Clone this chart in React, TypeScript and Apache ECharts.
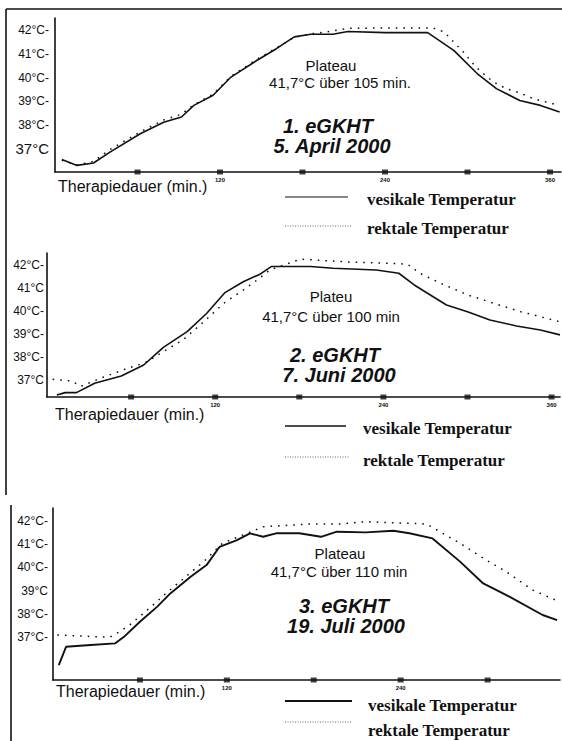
import React, { useEffect, useRef } from "react";
import * as echarts from "echarts";

// ---------- data (minutes, °C) ----------
const xTickLabels = [120, 240, 360];
const squareTicks1 = [60, 120, 180, 240, 300, 360];
const squareTicks2 = [60, 120, 180, 240, 300, 360];
const squareTicks3 = [60, 120, 180, 240, 300];
const yTickValues = [37, 38, 39, 40, 41, 42];
const yLabels1 = ["37°C", "38°C-", "39°C-", "40°C-", "41°C-", "42°C-"];
const yLabels2 = ["37°C", "38°C-", "39°C-", "40°C-", "41°C", "42°C-"];
const yLabels3 = ["37°C-", "38°C-", "39°C", "40°C-", "41°C-", "42°C-"];

const vesikal1 = [
  [5, 36.53], [16, 36.28], [28, 36.38], [40, 36.84], [62, 37.62], [79, 38.11], [92, 38.33],
  [101, 38.82], [115, 39.25], [128, 40.02], [147, 40.73], [161, 41.22], [174, 41.72],
  [186, 41.83], [202, 41.83], [213, 41.95], [240, 41.9], [271, 41.9], [290, 41.15],
  [307, 40.17], [321, 39.53], [338, 39.03], [353, 38.82], [367, 38.54],
];
const rektal1 = [
  [5, 36.5], [16, 36.3], [28, 36.45], [40, 36.95], [62, 37.7], [79, 38.2], [92, 38.45],
  [101, 38.85], [115, 39.3], [128, 40.05], [147, 40.78], [161, 41.25], [174, 41.7],
  [186, 41.85], [200, 41.95], [213, 42.08], [240, 42.1], [275, 42.1], [283, 41.93],
  [290, 41.5], [297, 41.08], [304, 40.59], [310, 40.23], [319, 39.81], [328, 39.53],
  [338, 39.35], [348, 39.1], [367, 38.82],
];
const plateauMarks1 = [103, 223];

const vesikal2 = [
  [7, 36.35], [13, 36.45], [21, 36.45], [34, 36.86], [53, 37.17], [69, 37.65], [83, 38.42],
  [100, 39.1], [114, 39.9], [127, 40.8], [140, 41.27], [152, 41.6], [160, 41.93],
  [188, 41.93], [204, 41.86], [235, 41.78], [251, 41.64], [262, 41.13], [285, 40.26],
  [300, 39.97], [316, 39.61], [335, 39.35], [352, 39.17], [366, 38.96],
];
const rektal2 = [
  [4, 37.03], [18, 36.95], [24, 36.72], [38, 37.07], [57, 37.5], [70, 37.75], [83, 38.23],
  [97, 38.74], [112, 39.54], [126, 40.33], [140, 40.91], [150, 41.35], [159, 41.78],
  [169, 42.0], [181, 42.25], [212, 42.14], [257, 42.04], [266, 41.64], [281, 41.2],
  [300, 40.7], [319, 40.33], [338, 39.97], [352, 39.75], [366, 39.53],
];

const vesikal3 = [
  [4, 35.79], [9, 36.58], [26, 36.66], [43, 36.73], [49, 37.01], [60, 37.66], [72, 38.31],
  [81, 38.88], [95, 39.6], [106, 40.1], [115, 40.89], [127, 41.18], [136, 41.47],
  [145, 41.32], [154, 41.47], [170, 41.47], [185, 41.32], [196, 41.54], [216, 41.51],
  [235, 41.58], [246, 41.47], [262, 41.25], [281, 40.25], [297, 39.31], [313, 38.81],
  [338, 37.95], [348, 37.73],
];
const rektal3 = [
  [3, 37.09], [39, 36.99], [44, 37.16], [53, 37.52], [65, 38.16], [78, 38.88], [104, 40.25],
  [117, 41.04], [134, 41.47], [145, 41.75], [177, 41.87], [198, 41.87], [216, 41.97],
  [258, 41.87], [269, 41.47], [281, 41.04], [299, 40.32], [313, 39.81], [331, 39.03],
  [347, 38.59],
];

// ---------- panel layout ----------
const panels = [
  { left: 55, top: 18, width: 506, height: 154, xMax: 368, yMin: 36, yMax: 42.52, labelMargin: 6,
    yLabels: yLabels1, ves: vesikal1, rek: rektal1, squares: squareTicks1 },
  { left: 47, top: 253, width: 513, height: 144, xMax: 366, yMin: 36.26, yMax: 42.52, labelMargin: 3,
    yLabels: yLabels2, ves: vesikal2, rek: rektal2, squares: squareTicks2 },
  { left: 53, top: 508, width: 507, height: 172, xMax: 350, yMin: 35.15, yMax: 42.56, labelMargin: 5,
    yLabels: yLabels3, ves: vesikal3, rek: rektal3, squares: squareTicks3 },
];

const SANS = "'Liberation Sans', Arial, sans-serif";
const NARROW = "'Liberation Sans Narrow', 'Liberation Sans', Arial, sans-serif";
const SERIF = "'Liberation Serif', 'DejaVu Serif', serif";

function txt(x: number, y: number, text: string, font: any, align = "center") {
  return {
    type: "text",
    x,
    y,
    style: {
      text,
      fill: "#111",
      textAlign: align,
      textVerticalAlign: "middle",
      ...font,
    },
  };
}
function ln(x1: number, y1: number, x2: number, y2: number, w = 1.3, dash: any = null, color = "#111") {
  return {
    type: "line",
    shape: { x1, y1, x2, y2 },
    style: { stroke: color, lineWidth: w, lineDash: dash },
  };
}

export default function App() {
  const ref = useRef<HTMLDivElement>(null);
  useEffect(() => {
    if (!ref.current) return;
    const chart = echarts.init(ref.current, undefined, { renderer: "svg" });

    const grid = panels.map((p) => ({ left: p.left, top: p.top, width: p.width, height: p.height }));
    const xAxis = panels.map((p, i) => ({
      type: "value",
      gridIndex: i,
      min: 0,
      max: p.xMax,
      axisLine: { show: true, lineStyle: { color: "#111", width: 1.6 } },
      axisTick: { show: false },
      splitLine: { show: false },
      axisLabel: {
        customValues: xTickLabels.filter((v) => v <= p.xMax),
        fontSize: 6,
        fontWeight: "bold",
        fontFamily: SANS,
        color: "#111",
        margin: 5,
      },
    }));
    const yAxis = panels.map((p, i) => ({
      type: "value",
      gridIndex: i,
      min: p.yMin,
      max: p.yMax,
      axisLine: { show: true, lineStyle: { color: "#111", width: 1.6 } },
      axisTick: { show: false },
      splitLine: { show: false },
      axisLabel: {
        customValues: yTickValues,
        margin: p.labelMargin,
        fontSize: 12,
        fontFamily: NARROW,
        color: "#111",
        formatter: (v: number) => {
          const s = p.yLabels[yTickValues.indexOf(Math.round(v))] || "";
          return i === 0 && Math.round(v) === 37 ? "{big|" + s + "}" : s;
        },
        rich: { big: { fontSize: 15, fontFamily: SANS, color: "#111" } },
      },
    }));

    const series: any[] = [];
    panels.forEach((p, i) => {
      series.push({
        type: "line",
        name: "vesikale Temperatur",
        xAxisIndex: i,
        yAxisIndex: i,
        data: p.ves,
        showSymbol: false,
        clip: false,
        lineStyle: { color: "#111", width: i === 2 ? 1.9 : 1.6 },
        markLine:
          i === 0
            ? {
                silent: true,
                symbol: "none",
                label: { show: false },
                lineStyle: { color: "#111", width: 1, type: "solid" },
                data: [
                  [{ coord: [plateauMarks1[0], 35.87] }, { coord: [plateauMarks1[0], 37.2] }],
                  [{ coord: [plateauMarks1[1], 35.65] }, { coord: [plateauMarks1[1], 37.1] }],
                ],
              }
            : undefined,
      });
      series.push({
        type: "line",
        name: "rektale Temperatur",
        xAxisIndex: i,
        yAxisIndex: i,
        data: p.rek,
        showSymbol: false,
        clip: false,
        lineStyle: { color: "#111", width: 1.5, type: [1.6, 6] },
      });
      series.push({
        type: "scatter",
        xAxisIndex: i,
        yAxisIndex: i,
        data: p.squares.map((t) => [t, p.yMin]),
        symbol: "rect",
        symbolSize: [6, 5],
        itemStyle: { color: "#111" },
        clip: false,
      });
    });

    const f13 = { fontSize: 15, fontFamily: SANS };
    const f14 = { fontSize: 15, fontFamily: SANS };
    const fAxis = { fontSize: 16, fontFamily: SANS };
    const fTitle = { fontSize: 20, fontFamily: SANS, fontWeight: "bold", fontStyle: "italic" };
    const fLeg = { fontSize: 17, fontFamily: SERIF, fontWeight: "bold" };

    const graphic: any[] = [
      // frame
      ln(6, 9, 562, 9, 1.6),
      ln(6, 9, 6, 495, 1.6),
      ln(11, 505, 11, 741, 1.6),
      // panel 1
      txt(58, 186, "Therapiedauer (min.)", fAxis, "left"),
      txt(331, 65, "Plateau", f14),
      txt(340, 82, "41,7°C über 105 min.", f13),
      txt(328, 126, "1. eGKHT", fTitle),
      txt(332, 146, "5. April 2000", fTitle),
      ln(285, 197, 348, 197, 1.2),
      txt(367, 199, "vesikale Temperatur", fLeg, "left"),
      ln(285, 226, 352, 226, 1, [1, 1.5], "#666"),
      txt(367, 228, "rektale Temperatur", fLeg, "left"),
      // panel 2
      txt(55, 414, "Therapiedauer (min.)", fAxis, "left"),
      txt(331, 296, "Plateu", f14),
      txt(331, 316, "41,7°C über 100 min", f13),
      txt(335, 355, "2. eGKHT", fTitle),
      txt(339, 375, "7. Juni 2000", fTitle),
      ln(285, 426, 346, 426, 1.4),
      txt(363, 428, "vesikale Temperatur", fLeg, "left"),
      ln(285, 457, 350, 457, 1, [1, 1.5], "#666"),
      txt(363, 460, "rektale Temperatur", fLeg, "left"),
      // panel 3
      txt(56, 691, "Therapiedauer (min.)", fAxis, "left"),
      txt(340, 553, "Plateau", f14),
      txt(339, 571, "41,7°C über 110 min", f13),
      txt(344, 606, "3. eGKHT", fTitle),
      txt(346, 626, "19. Juli 2000", fTitle),
      ln(285, 701, 352, 701, 2),
      txt(368, 705, "vesikale Temperatur", fLeg, "left"),
      ln(285, 722, 352, 722, 1, [1, 1.5], "#666"),
      txt(368, 730, "rektale Temperatur", fLeg, "left"),
    ];

    chart.setOption({
      animation: false,
      backgroundColor: "#fff",
      grid,
      xAxis,
      yAxis,
      series,
      graphic,
    });
    return () => chart.dispose();
  }, []);

  return (
    <div
      ref={ref}
      style={{ position: "fixed", left: 0, top: 0, width: 562, height: 741, background: "#fff" }}
    />
  );
}
